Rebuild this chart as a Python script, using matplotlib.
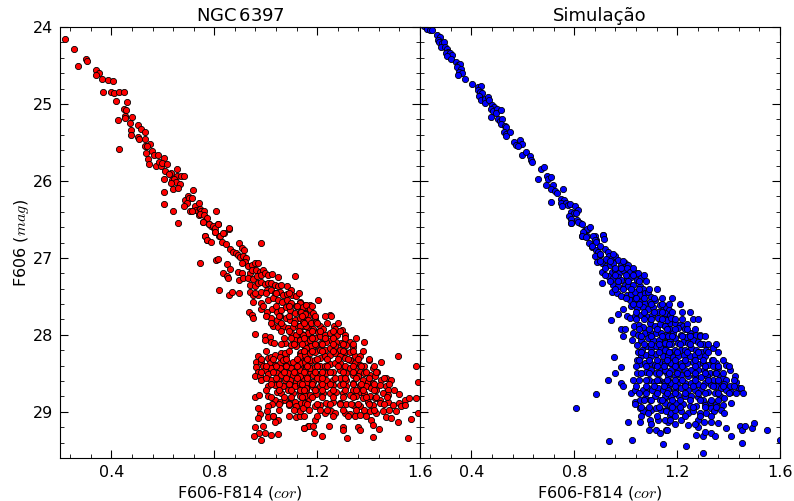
import matplotlib
matplotlib.use('Agg')
import matplotlib.pyplot as plt
import numpy as np
from matplotlib.ticker import MultipleLocator, AutoMinorLocator

plt.rcParams['font.family'] = 'DejaVu Sans'
plt.rcParams['mathtext.fontset'] = 'cm'

# NGC 6397, (F606-F814, F606) pairs
ngc_upper = [
    (0.219, 24.16), (0.256, 24.29), (0.271, 24.50), (0.301, 24.41), (0.306, 24.44),
    (0.339, 24.56), (0.353, 24.60), (0.341, 24.62), (0.363, 24.67), (0.386, 24.69), (0.407, 24.70),
    (0.368, 24.85), (0.397, 24.84), (0.411, 24.86), (0.430, 24.85), (0.447, 24.84), (0.416, 24.96),
    (0.461, 24.97), (0.447, 25.06), (0.456, 25.08), (0.451, 25.16), (0.452, 25.18), (0.480, 25.17),
    (0.424, 25.21), (0.471, 25.25), (0.504, 25.27), (0.515, 25.32), (0.530, 25.36), (0.475, 25.34),
    (0.477, 25.40), (0.502, 25.43), (0.507, 25.46), (0.530, 25.45), (0.550, 25.52), (0.530, 25.54),
    (0.539, 25.54), (0.430, 25.58), (0.556, 25.61), (0.565, 25.66), (0.533, 25.64), (0.582, 25.66),
    (0.604, 25.70), (0.544, 25.71), (0.546, 25.78), (0.572, 25.81), (0.586, 25.76), (0.592, 25.81),
    (0.595, 25.77), (0.616, 25.78), (0.631, 25.89), (0.607, 25.87), (0.656, 25.85), (0.654, 25.93),
    (0.670, 25.94), (0.684, 25.94), (0.622, 25.91), (0.636, 25.99), (0.644, 25.97), (0.650, 26.01),
    (0.666, 26.04), (0.631, 26.03), (0.640, 26.10), (0.657, 26.09), (0.603, 25.98), (0.605, 26.14),
    (0.604, 26.30), (0.640, 26.39), (0.657, 26.54), (0.717, 26.12), (0.685, 26.25), (0.697, 26.19),
    (0.701, 26.22), (0.692, 26.28), (0.713, 26.22), (0.682, 26.33), (0.724, 26.32), (0.741, 26.29),
    (0.727, 26.38), (0.705, 26.39), (0.714, 26.39), (0.735, 26.39), (0.745, 26.36), (0.750, 26.39),
    (0.758, 26.39), (0.740, 26.44), (0.746, 26.43), (0.759, 26.44), (0.771, 26.48), (0.757, 26.53),
    (0.807, 26.39), (0.779, 26.56), (0.789, 26.58), (0.797, 26.61), (0.815, 26.56), (0.802, 26.66),
    (0.817, 26.72), (0.838, 26.67), (0.856, 26.62), (0.763, 26.71), (0.772, 26.77),
]

ngc_knee = [
    (0.757, 26.53), (0.780, 26.56), (0.796, 26.58), (0.802, 26.61), (0.815, 26.56), (0.802, 26.66),
    (0.763, 26.71), (0.772, 26.77), (0.789, 26.79), (0.822, 26.72), (0.835, 26.67), (0.858, 26.61),
    (0.828, 26.79), (0.845, 26.82), (0.860, 26.89), (0.873, 26.92), (0.884, 26.94), (0.897, 26.81),
    (0.906, 26.87), (0.915, 26.90), (0.893, 26.96), (0.899, 26.99), (0.912, 26.97), (0.925, 27.00),
    (0.919, 27.05), (0.906, 27.06), (0.983, 26.80), (0.744, 27.06), (0.806, 27.03), (0.815, 27.02),
    (0.848, 27.08), (0.860, 27.15), (0.835, 27.20), (0.848, 27.23), (0.854, 27.26), (0.893, 27.18),
    (0.906, 27.20), (0.897, 27.29), (0.912, 27.26), (0.932, 27.11), (0.945, 27.09), (0.957, 27.07),
    (0.970, 27.06), (0.938, 27.20), (0.948, 27.16), (0.964, 27.16), (0.977, 27.18), (0.990, 27.16),
    (0.932, 27.26), (0.951, 27.28), (0.967, 27.24), (0.983, 27.22), (0.996, 27.20), (1.009, 27.22),
    (1.026, 27.21), (1.048, 27.25), (1.113, 27.24), (0.938, 27.35), (0.957, 27.37), (0.970, 27.33),
    (0.983, 27.31), (0.996, 27.34), (1.009, 27.32), (1.022, 27.33), (1.035, 27.35), (1.048, 27.37),
    (1.061, 27.35), (1.083, 27.36), (1.100, 27.42), (0.818, 27.42), (0.858, 27.48), (0.867, 27.44),
    (0.897, 27.46), (0.938, 27.44), (0.951, 27.48), (0.970, 27.48), (0.983, 27.44), (1.003, 27.42),
    (1.022, 27.42), (1.035, 27.45), (1.055, 27.44), (1.068, 27.48), (1.083, 27.47), (1.104, 27.48),
    (1.119, 27.50), (1.132, 27.57), (1.152, 27.61), (0.951, 27.57), (0.983, 27.58), (1.009, 27.55),
    (1.029, 27.52), (1.048, 27.55), (1.065, 27.57), (1.083, 27.55), (1.100, 27.59), (1.119, 27.62),
    (1.139, 27.63), (1.158, 27.65), (1.171, 27.61), (0.936, 27.70), (0.945, 27.74), (0.951, 27.78),
    (0.983, 27.67), (1.003, 27.70), (1.026, 27.67), (1.042, 27.70), (1.061, 27.68), (1.078, 27.64),
    (1.096, 27.68), (1.113, 27.71), (1.132, 27.70), (1.152, 27.72), (1.165, 27.76), (1.022, 27.78),
    (1.042, 27.81), (1.057, 27.76), (1.078, 27.78), (1.093, 27.81), (1.113, 27.81), (1.132, 27.78),
    (1.152, 27.81), (1.165, 27.85), (1.029, 27.89), (1.048, 27.90), (1.068, 27.88), (1.087, 27.91),
    (1.106, 27.90), (1.126, 27.89), (1.145, 27.88), (1.165, 27.91), (1.100, 27.98), (1.119, 28.00),
    (1.139, 27.98), (1.158, 28.00), (1.171, 27.98), (1.113, 28.06), (1.132, 28.06), (1.152, 28.07),
    (1.168, 28.09), (0.957, 27.99), (0.996, 28.01), (1.016, 28.03), (1.022, 28.09), (0.996, 28.07),
    (1.031, 28.10), (1.074, 28.10), (1.100, 28.13), (1.119, 28.15), (1.152, 28.17), (1.168, 28.19),
    (1.132, 28.24), (1.148, 28.26), (1.061, 28.23), (1.078, 28.26), (0.970, 28.28), (1.009, 28.30),
    (1.022, 28.29), (1.035, 28.26), (1.055, 28.29), (1.074, 28.24), (0.964, 28.35), (0.983, 28.35),
    (0.990, 28.41), (1.016, 28.37), (1.035, 28.39), (1.055, 28.36), (1.068, 28.32), (1.087, 28.37),
    (1.106, 28.35), (1.132, 28.32), (1.152, 28.36), (1.171, 28.35), (0.961, 28.42), (0.970, 28.48),
    (0.996, 28.45), (1.022, 28.43), (1.055, 28.43), (1.080, 28.41), (1.100, 28.43), (1.119, 28.45),
    (1.139, 28.43), (1.158, 28.41), (0.957, 28.54), (0.977, 28.53), (1.009, 28.51), (1.042, 28.50),
    (1.061, 28.52), (1.087, 28.50), (1.106, 28.52), (1.130, 28.50), (1.152, 28.51), (1.171, 28.49),
    (0.983, 28.58), (1.022, 28.58), (1.048, 28.58), (1.074, 28.59), (1.093, 28.58), (1.119, 28.61),
    (1.145, 28.58), (1.165, 28.59), (1.009, 28.67), (1.035, 28.65), (1.068, 28.67), (1.093, 28.65),
    (1.113, 28.67), (1.132, 28.65), (1.158, 28.67), (1.042, 28.74), (1.061, 28.76), (1.087, 28.72),
    (1.106, 28.76), (1.132, 28.74), (1.155, 28.71), (0.957, 28.81), (0.974, 28.78), (1.009, 28.80),
    (1.035, 28.84), (1.057, 28.87), (1.074, 28.84), (1.091, 28.88), (1.113, 28.87), (1.139, 28.89),
    (1.165, 28.84), (1.026, 28.90), (1.091, 28.91), (1.119, 28.92), (0.970, 28.95), (1.009, 28.93),
    (1.003, 28.99), (0.977, 29.03), (1.009, 29.07), (1.029, 29.05), (1.048, 29.10), (1.035, 29.13),
    (0.970, 29.08), (1.117, 29.07), (1.132, 29.06), (0.957, 29.20), (0.990, 29.19), (0.974, 29.27),
    (0.999, 29.27), (1.022, 29.30), (1.048, 29.29), (0.955, 29.31), (0.983, 29.36), (1.148, 29.21),
    (1.165, 29.19),
]

ngc_lower = [
    (1.203, 27.55), (1.132, 27.59), (1.145, 27.64), (1.158, 27.61), (1.138, 27.70), (1.151, 27.73),
    (1.171, 27.67), (1.184, 27.72), (1.190, 27.78), (1.164, 27.81), (1.145, 27.83), (1.132, 27.89),
    (1.158, 27.88), (1.177, 27.85), (1.197, 27.83), (1.210, 27.88), (1.251, 27.74), (1.255, 27.76),
    (1.223, 27.93), (1.203, 27.96), (1.184, 27.93), (1.164, 27.98), (1.145, 28.00), (1.132, 28.06),
    (1.151, 28.09), (1.171, 28.06), (1.190, 28.04), (1.210, 28.02), (1.229, 28.00), (1.248, 27.98),
    (1.264, 27.88), (1.268, 27.93), (1.277, 28.00), (1.298, 27.94), (1.307, 28.00), (1.326, 28.09),
    (1.313, 28.13), (1.294, 28.11), (1.274, 28.09), (1.255, 28.06), (1.236, 28.09), (1.216, 28.11),
    (1.197, 28.13), (1.177, 28.15), (1.158, 28.17), (1.138, 28.22), (1.339, 28.16), (1.384, 28.09),
    (1.132, 28.28), (1.151, 28.26), (1.171, 28.24), (1.190, 28.22), (1.210, 28.20), (1.229, 28.19),
    (1.248, 28.17), (1.268, 28.15), (1.287, 28.19), (1.307, 28.22), (1.326, 28.22), (1.346, 28.27),
    (1.365, 28.28), (1.401, 28.32), (1.449, 28.35), (1.514, 28.28), (1.585, 28.40), (1.132, 28.37),
    (1.151, 28.35), (1.171, 28.32), (1.190, 28.32), (1.210, 28.30), (1.229, 28.28), (1.248, 28.26),
    (1.268, 28.24), (1.287, 28.28), (1.307, 28.30), (1.326, 28.32), (1.346, 28.36), (1.365, 28.39),
    (1.384, 28.41), (1.417, 28.43), (1.432, 28.48), (1.132, 28.45), (1.151, 28.45), (1.171, 28.43),
    (1.190, 28.42), (1.210, 28.41), (1.229, 28.40), (1.248, 28.38), (1.268, 28.36), (1.287, 28.37),
    (1.307, 28.40), (1.326, 28.43), (1.346, 28.45), (1.365, 28.48), (1.384, 28.50), (1.404, 28.52),
    (1.423, 28.54), (1.449, 28.58), (1.468, 28.56), (1.488, 28.58), (1.132, 28.54), (1.158, 28.53),
    (1.184, 28.52), (1.210, 28.51), (1.236, 28.50), (1.261, 28.48), (1.287, 28.46), (1.313, 28.50),
    (1.339, 28.52), (1.358, 28.54), (1.378, 28.58), (1.397, 28.61), (1.417, 28.63), (1.443, 28.65),
    (1.466, 28.67), (1.475, 28.71), (1.591, 28.61), (1.132, 28.63), (1.158, 28.62), (1.184, 28.61),
    (1.210, 28.59), (1.236, 28.58), (1.261, 28.58), (1.287, 28.56), (1.313, 28.58), (1.339, 28.62),
    (1.365, 28.65), (1.391, 28.67), (1.410, 28.69), (1.430, 28.72), (1.455, 28.76), (1.475, 28.78),
    (1.520, 28.77), (1.132, 28.71), (1.158, 28.69), (1.184, 28.68), (1.210, 28.67), (1.236, 28.66),
    (1.261, 28.65), (1.287, 28.65), (1.313, 28.67), (1.339, 28.71), (1.365, 28.74), (1.384, 28.76),
    (1.404, 28.79), (1.423, 28.82), (1.443, 28.84), (1.132, 28.80), (1.151, 28.79), (1.171, 28.78),
    (1.197, 28.77), (1.223, 28.76), (1.248, 28.75), (1.274, 28.74), (1.300, 28.76), (1.326, 28.78),
    (1.352, 28.80), (1.378, 28.82), (1.397, 28.87), (1.417, 28.91), (1.443, 28.89), (1.475, 28.87),
    (1.494, 28.91), (1.520, 28.89), (1.540, 28.84), (1.559, 28.82), (1.585, 28.82), (1.151, 28.89),
    (1.190, 28.92), (1.210, 28.91), (1.236, 28.88), (1.261, 28.87), (1.287, 28.88), (1.313, 28.90),
    (1.339, 28.91), (1.365, 28.93), (1.384, 28.97), (1.404, 28.99), (1.430, 29.02), (1.455, 28.99),
    (1.481, 28.97), (1.507, 28.99), (1.527, 28.93), (1.540, 28.91), (1.591, 29.01), (1.132, 28.99),
    (1.145, 28.95), (1.229, 29.02), (1.255, 28.99), (1.268, 29.01), (1.307, 29.01), (1.326, 29.03),
    (1.346, 29.06), (1.365, 29.04), (1.391, 29.06), (1.410, 29.10), (1.468, 29.07), (1.488, 29.08),
    (1.514, 29.13), (1.565, 29.09), (1.190, 29.10), (1.168, 29.18), (1.184, 29.19), (1.148, 29.21),
    (1.186, 29.28), (1.220, 29.31), (1.246, 29.18), (1.300, 29.20), (1.300, 29.24), (1.358, 29.20),
    (1.365, 29.23), (1.417, 29.17), (1.439, 29.22), (1.317, 29.34), (1.417, 29.33), (1.555, 29.34),
]

# crowded core of the cluster sequence: magnitude, then the colours on that row
ngc_core_rows = [
    (27.45, [0.96, 1.00, 1.04, 1.09, 1.13]),
    (27.62, [0.99, 1.04, 1.09, 1.12, 1.18]),
    (27.75, [1.00, 1.05, 1.09, 1.14, 1.19, 1.23]),
    (27.85, [1.02, 1.06, 1.11, 1.15, 1.20, 1.24, 1.28]),
    (27.95, [1.06, 1.09, 1.13, 1.18, 1.21, 1.26, 1.29]),
    (28.04, [1.07, 1.10, 1.15, 1.18, 1.23, 1.26, 1.31, 1.35]),
    (28.12, [1.06, 1.11, 1.14, 1.19, 1.22, 1.26, 1.30, 1.34]),
    (28.21, [1.00, 1.09, 1.15, 1.18, 1.22, 1.26, 1.30, 1.34, 1.38]),
    (28.31, [0.98, 1.03, 1.08, 1.12, 1.16, 1.20, 1.24, 1.28, 1.32, 1.36, 1.40]),
    (28.40, [1.00, 1.04, 1.08, 1.12, 1.16, 1.20, 1.24, 1.28, 1.34, 1.37, 1.42]),
    (28.48, [0.98, 1.03, 1.07, 1.11, 1.15, 1.19, 1.22, 1.25, 1.30, 1.34, 1.39, 1.43]),
    (28.56, [1.00, 1.04, 1.08, 1.12, 1.16, 1.20, 1.22, 1.27, 1.31, 1.35, 1.40, 1.46]),
    (28.64, [1.02, 1.05, 1.09, 1.14, 1.18, 1.22, 1.25, 1.30, 1.34, 1.37, 1.42, 1.48]),
    (28.72, [1.00, 1.05, 1.10, 1.15, 1.19, 1.22, 1.26, 1.31, 1.35, 1.38, 1.42, 1.50]),
    (28.81, [1.02, 1.07, 1.10, 1.14, 1.18, 1.22, 1.26, 1.30, 1.34, 1.39, 1.43, 1.47]),
    (28.90, [1.05, 1.09, 1.16, 1.20, 1.25, 1.29, 1.33, 1.36, 1.40, 1.46]),
    (28.98, [1.05, 1.11, 1.17, 1.21, 1.24, 1.30, 1.35, 1.42]),
    (29.06, [1.03, 1.09, 1.15, 1.20, 1.26, 1.32]),
]

# simulated population, same columns
sim_upper = [
    (0.215, 23.98), (0.226, 24.03), (0.239, 24.04), (0.248, 24.04), (0.265, 24.10), (0.278, 24.13),
    (0.269, 24.17), (0.274, 24.19), (0.284, 24.21), (0.294, 24.20), (0.282, 24.26), (0.297, 24.26),
    (0.304, 24.29), (0.307, 24.32), (0.300, 24.34), (0.316, 24.34), (0.326, 24.36), (0.304, 24.38),
    (0.320, 24.42), (0.338, 24.46), (0.346, 24.49), (0.355, 24.48), (0.342, 24.52), (0.359, 24.55),
    (0.351, 24.58), (0.362, 24.60), (0.349, 24.62), (0.375, 24.67), (0.403, 24.74), (0.426, 24.78),
    (0.439, 24.77), (0.424, 24.82), (0.433, 24.84), (0.442, 24.86), (0.429, 24.90), (0.437, 24.95),
    (0.452, 24.93), (0.463, 24.91), (0.452, 24.99), (0.468, 24.95), (0.478, 25.01), (0.489, 25.04),
    (0.476, 25.07), (0.485, 25.09), (0.498, 25.07), (0.494, 25.12), (0.514, 25.08), (0.476, 25.17),
    (0.502, 25.20), (0.511, 25.22), (0.520, 25.20), (0.514, 25.26), (0.530, 25.29), (0.536, 25.30),
    (0.527, 25.36), (0.536, 25.39), (0.549, 25.37), (0.533, 25.42), (0.566, 25.50), (0.575, 25.53),
    (0.588, 25.47), (0.595, 25.52), (0.582, 25.55), (0.597, 25.66), (0.614, 25.63), (0.627, 25.68),
    (0.631, 25.73), (0.634, 25.76), (0.670, 25.85), (0.683, 25.82), (0.659, 25.97), (0.692, 25.94),
    (0.698, 25.97), (0.709, 25.95), (0.688, 26.05), (0.718, 26.05), (0.711, 26.11), (0.724, 26.13),
    (0.734, 26.16), (0.709, 26.27), (0.756, 26.11), (0.747, 26.23), (0.760, 26.25), (0.750, 26.28),
    (0.766, 26.29), (0.776, 26.31), (0.782, 26.30), (0.753, 26.33), (0.804, 26.33), (0.815, 26.38),
    (0.789, 26.40), (0.799, 26.42), (0.808, 26.41), (0.778, 26.46), (0.786, 26.50), (0.789, 26.55),
    (0.812, 26.51), (0.821, 26.55), (0.828, 26.72), (0.843, 26.64), (0.853, 26.62), (0.838, 26.68),
    (0.851, 26.72), (0.879, 26.72), (0.886, 26.77), (0.912, 26.70),
]

sim_knee = [
    (0.789, 26.55), (0.815, 26.53), (0.828, 26.56), (0.848, 26.63), (0.860, 26.60), (0.835, 26.66),
    (0.828, 26.71), (0.845, 26.73), (0.873, 26.72), (0.880, 26.77), (0.886, 26.79), (0.910, 26.70),
    (0.915, 26.76), (0.858, 26.80), (0.867, 26.86), (0.884, 26.90), (0.893, 26.92), (0.880, 26.98),
    (0.899, 26.96), (0.919, 26.89), (0.932, 26.92), (0.936, 26.97), (0.889, 27.05), (0.906, 27.07),
    (0.925, 27.02), (0.945, 27.00), (0.957, 26.98), (0.970, 27.03), (0.925, 27.11), (0.938, 27.09),
    (0.951, 27.07), (0.983, 27.09), (0.996, 27.06), (1.009, 27.09), (0.906, 27.18), (0.945, 27.18),
    (0.957, 27.16), (0.974, 27.19), (0.990, 27.16), (1.003, 27.13), (1.016, 27.18), (1.035, 27.20),
    (1.048, 27.19), (0.906, 27.32), (0.932, 27.24), (0.951, 27.26), (0.970, 27.25), (0.983, 27.29),
    (1.003, 27.26), (1.022, 27.25), (1.042, 27.29), (1.061, 27.26), (0.951, 27.35), (0.970, 27.36),
    (0.996, 27.35), (1.009, 27.37), (1.029, 27.35), (1.055, 27.36), (1.068, 27.41), (0.948, 27.44),
    (0.967, 27.46), (0.983, 27.50), (1.003, 27.48), (1.022, 27.47), (1.035, 27.44), (1.055, 27.48),
    (1.074, 27.46), (1.087, 27.44), (1.100, 27.51), (1.016, 27.55), (1.035, 27.54), (1.055, 27.57),
    (1.074, 27.58), (1.093, 27.57), (1.113, 27.55), (1.132, 27.61), (1.158, 27.63), (0.990, 27.67),
    (1.022, 27.63), (1.042, 27.65), (1.068, 27.64), (1.087, 27.67), (1.106, 27.64), (1.126, 27.70),
    (1.145, 27.68), (1.165, 27.65), (0.970, 27.73), (1.003, 27.75), (1.016, 27.78), (1.035, 27.76),
    (1.061, 27.74), (1.080, 27.76), (1.104, 27.74), (1.126, 27.78), (1.152, 27.76), (1.171, 27.75),
    (0.941, 27.81), (0.983, 27.93), (0.996, 27.93), (0.990, 28.02), (1.031, 27.89), (1.052, 27.87),
    (1.068, 27.90), (1.093, 27.85), (1.113, 27.88), (1.132, 27.86), (1.152, 27.89), (1.171, 27.85),
    (1.029, 27.98), (1.048, 28.00), (1.074, 27.98), (1.096, 27.96), (1.119, 27.98), (1.139, 27.97),
    (1.158, 28.00), (1.026, 28.06), (1.042, 28.13), (1.061, 28.07), (1.087, 28.04), (1.106, 28.06),
    (1.130, 28.06), (1.152, 28.09), (1.171, 28.06), (1.048, 28.22), (1.065, 28.19), (1.083, 28.15),
    (1.100, 28.17), (1.119, 28.14), (1.139, 28.17), (1.158, 28.15), (0.954, 28.29), (1.042, 28.32),
    (1.061, 28.28), (1.080, 28.26), (1.100, 28.28), (1.119, 28.25), (1.143, 28.27), (1.165, 28.24),
    (0.981, 28.42), (1.055, 28.38), (1.074, 28.37), (1.093, 28.36), (1.113, 28.39), (1.132, 28.35),
    (1.152, 28.37), (1.171, 28.36), (0.957, 28.50), (1.042, 28.50), (1.078, 28.48), (1.100, 28.45),
    (1.119, 28.49), (1.139, 28.46), (1.158, 28.48), (0.932, 28.59), (0.983, 28.62), (0.990, 28.66),
    (1.029, 28.59), (1.091, 28.58), (1.109, 28.61), (1.130, 28.58), (1.148, 28.61), (1.165, 28.58),
    (1.022, 28.75), (1.035, 28.71), (1.068, 28.71), (1.087, 28.69), (1.104, 28.72), (1.126, 28.69),
    (1.145, 28.71), (1.165, 28.69), (0.884, 28.77), (1.035, 28.87), (1.055, 28.84), (1.074, 28.82),
    (1.093, 28.84), (1.113, 28.80), (1.132, 28.84), (1.155, 28.81), (0.806, 28.95), (1.035, 28.90),
    (1.055, 28.95), (1.078, 28.97), (1.100, 28.97), (1.119, 28.95), (1.139, 28.98), (1.158, 28.97),
    (1.068, 28.99), (1.087, 29.02), (1.171, 29.04), (1.009, 29.13), (1.057, 29.13), (1.093, 29.10),
    (1.126, 29.10), (1.165, 29.13), (1.091, 29.23), (1.117, 29.23), (1.132, 29.27), (1.158, 29.23),
    (0.936, 29.38), (1.026, 29.36), (1.145, 29.42),
]

sim_lower = [
    (1.158, 27.64), (1.167, 27.68), (1.152, 27.72), (1.171, 27.74), (1.162, 27.81), (1.177, 27.78),
    (1.190, 27.85), (1.210, 27.87), (1.223, 27.88), (1.240, 27.86), (1.203, 27.91), (1.229, 27.93),
    (1.249, 27.98), (1.152, 27.89), (1.171, 27.93), (1.184, 27.98), (1.164, 28.02), (1.190, 28.04),
    (1.216, 28.00), (1.236, 28.03), (1.255, 28.02), (1.274, 28.00), (1.287, 28.00), (1.152, 28.11),
    (1.177, 28.12), (1.203, 28.10), (1.223, 28.09), (1.242, 28.11), (1.262, 28.07), (1.281, 28.09),
    (1.300, 28.12), (1.339, 28.17), (1.152, 28.19), (1.171, 28.22), (1.190, 28.19), (1.214, 28.19),
    (1.232, 28.20), (1.255, 28.17), (1.274, 28.19), (1.294, 28.22), (1.313, 28.20), (1.164, 28.28),
    (1.184, 28.29), (1.203, 28.27), (1.227, 28.26), (1.249, 28.28), (1.268, 28.26), (1.287, 28.27),
    (1.307, 28.28), (1.335, 28.33), (1.352, 28.37), (1.391, 28.39), (1.404, 28.45), (1.152, 28.37),
    (1.175, 28.36), (1.197, 28.38), (1.216, 28.36), (1.240, 28.37), (1.262, 28.35), (1.281, 28.38),
    (1.300, 28.36), (1.320, 28.39), (1.339, 28.41), (1.359, 28.43), (1.152, 28.45), (1.177, 28.46),
    (1.203, 28.45), (1.229, 28.45), (1.255, 28.45), (1.281, 28.46), (1.304, 28.45), (1.326, 28.49),
    (1.346, 28.50), (1.365, 28.53), (1.378, 28.56), (1.391, 28.58), (1.426, 28.53), (1.430, 28.61),
    (1.439, 28.69), (1.449, 28.69), (1.457, 28.76), (1.164, 28.54), (1.190, 28.53), (1.216, 28.52),
    (1.242, 28.54), (1.268, 28.53), (1.294, 28.55), (1.317, 28.54), (1.339, 28.58), (1.359, 28.61),
    (1.384, 28.64), (1.404, 28.67), (1.152, 28.63), (1.177, 28.62), (1.203, 28.61), (1.229, 28.63),
    (1.255, 28.62), (1.281, 28.64), (1.307, 28.63), (1.333, 28.65), (1.352, 28.67), (1.372, 28.69),
    (1.391, 28.71), (1.410, 28.74), (1.430, 28.76), (1.164, 28.71), (1.190, 28.71), (1.216, 28.69),
    (1.242, 28.71), (1.268, 28.71), (1.294, 28.72), (1.320, 28.74), (1.346, 28.76), (1.365, 28.80),
    (1.384, 28.82), (1.410, 28.88), (1.152, 28.80), (1.177, 28.79), (1.203, 28.78), (1.229, 28.80),
    (1.255, 28.79), (1.281, 28.81), (1.300, 28.84), (1.326, 28.87), (1.352, 28.90), (1.378, 28.91),
    (1.152, 28.89), (1.171, 28.91), (1.197, 28.88), (1.223, 28.90), (1.249, 28.92), (1.274, 28.93),
    (1.307, 28.91), (1.333, 28.95), (1.158, 28.99), (1.177, 29.02), (1.190, 28.98), (1.216, 28.99),
    (1.242, 29.02), (1.262, 28.99), (1.287, 29.02), (1.313, 29.01), (1.343, 28.99), (1.372, 28.97),
    (1.384, 29.02), (1.152, 29.10), (1.171, 29.10), (1.216, 29.10), (1.242, 29.17), (1.281, 29.10),
    (1.304, 29.13), (1.333, 29.13), (1.359, 29.15), (1.391, 29.21), (1.281, 29.20), (1.274, 29.30),
    (1.300, 29.32), (1.307, 29.26), (1.333, 29.28), (1.346, 29.32), (1.162, 29.23), (1.236, 29.44),
    (1.300, 29.53), (1.410, 29.32), (1.443, 29.18), (1.452, 29.23), (1.465, 29.19), (1.491, 29.21),
    (1.498, 29.15), (1.550, 29.23), (1.598, 29.36), (1.452, 29.41),
]

sim_core_rows = [
    (26.85, [0.87, 0.90]),
    (26.95, [0.90, 0.95]),
    (27.04, [0.90, 0.94, 0.99]),
    (27.13, [0.92, 0.96, 0.98, 1.03]),
    (27.22, [0.92, 0.96, 1.00, 1.03, 1.07]),
    (27.30, [0.94, 0.97, 1.01, 1.05, 1.08]),
    (27.40, [0.96, 0.99, 1.02, 1.05, 1.09, 1.12]),
    (27.52, [1.00, 1.04, 1.07, 1.11, 1.14, 1.18]),
    (27.60, [1.03, 1.05, 1.10, 1.14, 1.17, 1.21]),
    (27.70, [1.04, 1.07, 1.11, 1.14, 1.18, 1.22, 1.25]),
    (27.80, [1.04, 1.07, 1.10, 1.14, 1.19, 1.22, 1.26, 1.28]),
    (27.92, [1.05, 1.09, 1.12, 1.16, 1.19, 1.24, 1.27]),
    (28.02, [1.06, 1.10, 1.14, 1.18, 1.22, 1.25, 1.29, 1.31]),
    (28.12, [1.07, 1.10, 1.13, 1.17, 1.21, 1.25, 1.29, 1.32, 1.35]),
    (28.22, [1.06, 1.10, 1.13, 1.17, 1.20, 1.24, 1.28, 1.32, 1.36]),
    (28.32, [1.05, 1.09, 1.12, 1.16, 1.19, 1.23, 1.27, 1.30, 1.34, 1.38]),
    (28.41, [1.04, 1.08, 1.12, 1.15, 1.19, 1.22, 1.27, 1.31, 1.36, 1.40]),
    (28.50, [1.06, 1.09, 1.13, 1.17, 1.20, 1.24, 1.27, 1.31, 1.35, 1.38]),
    (28.58, [1.05, 1.08, 1.12, 1.16, 1.19, 1.22, 1.27, 1.32, 1.36, 1.42]),
    (28.67, [1.04, 1.08, 1.11, 1.15, 1.19, 1.23, 1.26, 1.30, 1.34, 1.38, 1.42]),
    (28.76, [1.05, 1.08, 1.12, 1.16, 1.19, 1.23, 1.28, 1.31, 1.36, 1.40]),
    (28.85, [1.07, 1.10, 1.14, 1.18, 1.21, 1.25, 1.29, 1.33, 1.36]),
    (28.94, [1.06, 1.09, 1.13, 1.18, 1.21, 1.26, 1.31, 1.35]),
    (29.05, [1.06, 1.12, 1.19, 1.23, 1.29, 1.33]),
    (29.16, [1.10, 1.19, 1.27]),
]


def unroll(rows):
    return [(c, m) for m, colours in rows for c in colours]


panels = [
    ('NGC$\\,$6397', ngc_upper + ngc_knee + ngc_lower + unroll(ngc_core_rows), 'red'),
    ('Simulação', sim_upper + sim_knee + sim_lower + unroll(sim_core_rows), 'blue'),
]

fig, axes = plt.subplots(1, 2, sharey=True, figsize=(7.94, 5.01), dpi=100)
fig.subplots_adjust(left=0.0756, right=0.9824, bottom=0.0858, top=0.946, wspace=0)

for ax, (title, stars, color) in zip(axes, panels):
    cor, mag = np.array(stars).T
    ax.scatter(cor, mag, s=20, c=color, edgecolors='black', linewidths=0.6, zorder=2)
    ax.set_xlim(0.2, 1.6)
    ax.set_ylim(29.6, 24)
    ax.xaxis.set_major_locator(MultipleLocator(0.4))
    ax.xaxis.set_minor_locator(AutoMinorLocator(5))
    ax.yaxis.set_major_locator(MultipleLocator(1))
    ax.yaxis.set_minor_locator(AutoMinorLocator(5))
    ax.tick_params(which='both', direction='in', top=True, right=True, labelsize=11.5, pad=5)
    ax.tick_params(which='major', length=6)
    ax.tick_params(which='minor', length=3)
    ax.set_title(title, fontsize=13, pad=4)
    ax.set_xlabel('F606-F814 ($cor$)', fontsize=11.5, labelpad=3)

axes[0].set_ylabel('F606 ($mag$)', fontsize=11.5, labelpad=1)
axes[1].tick_params(labelleft=False)

fig.savefig('out.png', dpi=100)
